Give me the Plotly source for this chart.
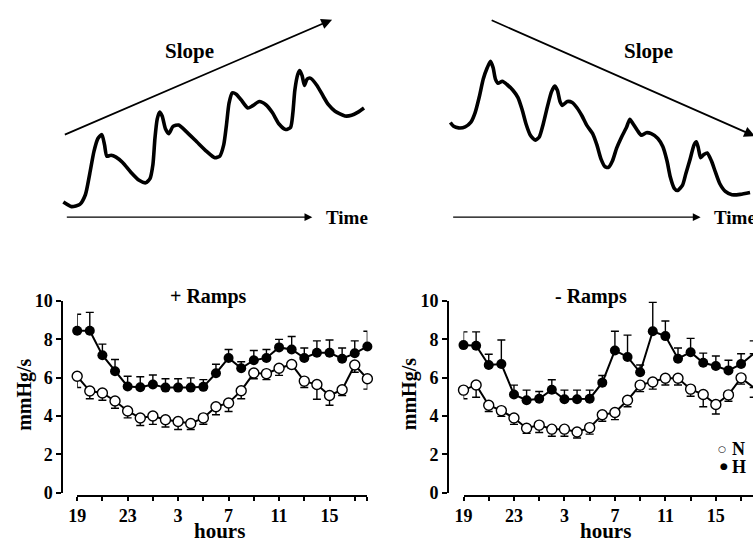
import plotly.graph_objects as go

W, H = 753, 552
FONT = "Liberation Serif, Times New Roman, serif"

# Hour of day for each hourly sample (19:00 through 18:00)
HOURS = [19, 20, 21, 22, 23, 0, 1, 2, 3, 4, 5, 6, 7, 8, 9, 10, 11, 12, 13, 14, 15, 16, 17, 18]
LABELLED_HOURS = [19, 23, 3, 7, 11, 15]

# + Ramps (mmHg/s), mean and SEM
POS_H = [8.45, 8.45, 7.17, 6.33, 5.54, 5.50, 5.64, 5.48, 5.48, 5.48, 5.52, 6.23,
         7.03, 6.49, 6.91, 7.03, 7.58, 7.47, 7.03, 7.30, 7.30, 6.99, 7.27, 7.63]
POS_H_SEM = [0.86, 0.96, 0.58, 0.62, 0.53, 0.55, 0.50, 0.46, 0.46, 0.51, 0.38, 0.47,
             0.44, 0.34, 0.51, 0.44, 0.42, 0.68, 0.52, 0.62, 0.67, 0.56, 0.65, 0.79]
POS_N = [6.07, 5.30, 5.20, 4.78, 4.26, 3.89, 4.00, 3.80, 3.71, 3.61, 3.90, 4.48,
         4.68, 5.32, 6.24, 6.21, 6.49, 6.69, 5.82, 5.64, 5.07, 5.37, 6.66, 5.94]
POS_N_SEM = [0.58, 0.40, 0.38, 0.38, 0.36, 0.39, 0.44, 0.38, 0.42, 0.32, 0.33, 0.42,
             0.45, 0.42, 0.30, 0.31, 0.37, 0.20, 0.33, 0.77, 0.51, 0.30, 0.38, 0.54]

# - Ramps (mmHg/s), mean and SEM
NEG_H = [7.70, 7.67, 6.66, 6.71, 5.12, 4.82, 4.90, 5.37, 4.87, 4.87, 4.90, 5.74,
         7.42, 7.08, 6.28, 8.42, 8.17, 6.99, 7.33, 6.78, 6.61, 6.38, 6.71, 7.25]
NEG_H_SEM = [0.69, 0.72, 0.56, 1.26, 0.49, 0.53, 0.38, 0.52, 0.48, 0.48, 0.45, 0.37,
             1.00, 1.14, 0.38, 1.51, 0.79, 0.56, 0.72, 0.50, 0.52, 0.53, 0.54, 0.67]
NEG_N = [5.35, 5.62, 4.56, 4.28, 3.89, 3.36, 3.52, 3.31, 3.31, 3.16, 3.39, 4.06,
         4.18, 4.82, 5.61, 5.77, 5.97, 5.97, 5.40, 5.12, 4.60, 5.10, 5.99, 5.49]
NEG_N_SEM = [0.45, 0.64, 0.33, 0.30, 0.33, 0.27, 0.38, 0.37, 0.37, 0.31, 0.34, 0.34,
             0.37, 0.34, 0.34, 0.37, 0.35, 0.35, 0.37, 0.64, 0.50, 0.33, 0.33, 0.51]

# Schematic pressure waves (drawing units = pixels of the top strip)
RISING_WAVE = [(55, 199.3), (63.3, 204), (71.7, 201.7), (77.3, 191.7), (81.7, 170), (86, 146.7),
               (90, 133.3), (94, 129.3), (96.7, 140), (99, 151.7), (103.3, 150.7), (108.3, 152.7),
               (115, 158.3), (123.3, 168.3), (131.7, 176.7), (138.3, 179.3), (142.7, 175),
               (145.7, 160), (147.7, 133.3), (150, 113.3), (152.3, 106), (155, 110), (158.3, 123.3),
               (161.7, 128.3), (166, 120.7), (171.7, 119.3), (180, 126.7), (190, 136.7),
               (200, 146.7), (208.3, 153.3), (213.3, 151.7), (217.3, 140), (220, 120),
               (222.7, 96.7), (226, 86), (230, 87.3), (235, 93.3), (241.7, 101.7), (246.7, 99.3),
               (253.3, 95), (260, 98.3), (266.7, 106.7), (273.3, 118.3), (280, 124), (285, 121.7),
               (287.3, 106.7), (289.3, 83.3), (292.3, 66.7), (294.3, 62.7), (296.7, 68.3),
               (299, 78.3), (301.7, 71.7), (305, 70.7), (311.7, 78.3), (318.3, 90), (323.3, 98.3),
               (330, 105), (340, 110), (346.7, 109.3), (353.3, 106), (359.3, 101.7)]
FALLING_WAVE = [(446.7, 116.7), (450, 120.7), (455, 122.3), (461.7, 121.3), (467.3, 116.7),
                (471.7, 106.7), (476, 90), (480, 71.7), (484, 60), (487.3, 53.3), (490, 60),
                (492.3, 71.7), (495, 76), (499.3, 74), (504, 77.3), (510, 83.3), (515, 90.7),
                (519.3, 103.3), (523.3, 118.3), (527.7, 130), (532.7, 135), (536.7, 131.7),
                (540.7, 118.3), (545, 100), (549, 85), (552.3, 79), (555, 83.3), (557.7, 95),
                (560, 99), (565, 95), (570, 96), (575, 101.7), (580, 110), (585, 120),
                (590.7, 128.3), (595, 140), (599.3, 155), (603.3, 162.7), (606.7, 163.3),
                (610.7, 156.7), (615, 143.3), (620, 131.7), (625, 121.7), (628.3, 113.3),
                (631.7, 118.3), (636, 125), (640, 130), (645, 127.3), (650, 128.3),
                (656.7, 133.3), (661.7, 141.7), (666, 156.7), (669.3, 173.3), (673.3, 185),
                (676.7, 187.3), (681.7, 181.7), (685, 170), (689.3, 155), (693.3, 140),
                (695.7, 136.7), (697.7, 143.3), (700, 153.3), (703.3, 150), (706.7, 148.3),
                (711, 156.7), (715, 168.3), (719.3, 180), (725, 188.3), (731.7, 191.7),
                (740, 191.3), (750, 189.3)]


def px(x):
    return x / W


def py(y):
    return 1 - y / H


idx = list(range(len(HOURS)))
zeros = [0] * len(HOURS)
PX_PER_HOUR = 12.77

fig = go.Figure()


def add_panel(xa, ya, n_mean, n_sem, h_mean, h_sem):
    fig.add_trace(go.Scatter(
        x=idx, y=n_mean, xaxis=xa, yaxis=ya, mode="lines+markers", cliponaxis=False,
        line=dict(color="black", width=2),
        marker=dict(symbol="circle", size=10, color="white", line=dict(color="black", width=1.4)),
        error_y=dict(type="data", symmetric=False, array=zeros, arrayminus=n_sem,
                     color="black", thickness=1.4, width=4),
        showlegend=False))
    fig.add_trace(go.Scatter(
        x=idx, y=h_mean, xaxis=xa, yaxis=ya, mode="lines+markers", cliponaxis=False,
        line=dict(color="black", width=2),
        marker=dict(symbol="circle", size=10, color="black"),
        error_y=dict(type="data", symmetric=False, array=h_sem, arrayminus=zeros,
                     color="black", thickness=1.4, width=4),
        showlegend=False))


add_panel("x", "y", POS_N, POS_N_SEM, POS_H, POS_H_SEM)
add_panel("x2", "y2", NEG_N, NEG_N_SEM, NEG_H, NEG_H_SEM)

# top schematic strip
for wave in (RISING_WAVE, FALLING_WAVE):
    fig.add_trace(go.Scatter(
        x=[p[0] for p in wave], y=[p[1] for p in wave], xaxis="x3", yaxis="y3",
        mode="lines", line=dict(color="black", width=3.6, shape="spline", smoothing=0.6),
        showlegend=False, hoverinfo="skip"))

tickvals = list(range(0, 24, 2)) + [23]
ticktext = [str(HOURS[v]) if (HOURS[v] in LABELLED_HOURS and v < 23) else "" for v in tickvals]
tickfont = dict(family=FONT, size=18, color="black", weight="bold")

common_x = dict(anchor="free", position=py(504), showline=True, linecolor="black", linewidth=2,
                ticks="outside", ticklen=4, tickwidth=2, tickcolor="black",
                tickvals=tickvals, ticktext=ticktext, tickfont=tickfont,
                showgrid=False, zeroline=False, fixedrange=True)
common_y = dict(anchor="free", range=[0, 10], domain=[py(500.7), py(302)],
                showline=True, linecolor="black", linewidth=2,
                ticks="outside", ticklen=5, tickwidth=2, tickcolor="black",
                tickvals=[0, 2, 4, 6, 8, 10], tickfont=tickfont,
                showgrid=False, zeroline=False, fixedrange=True)

left_x0, right_x0 = 69, 460
fig.update_layout(
    width=W, height=H, margin=dict(l=0, r=0, t=0, b=0),
    paper_bgcolor="white", plot_bgcolor="rgba(0,0,0,0)",
    xaxis=dict(domain=[px(left_x0), px(left_x0 + 23 * PX_PER_HOUR)], range=[0, 23], **common_x),
    yaxis=dict(position=px(54), **common_y),
    xaxis2=dict(domain=[px(right_x0), 1], range=[0, (W - right_x0) / PX_PER_HOUR], **common_x),
    yaxis2=dict(position=px(444.3), **common_y),
    xaxis3=dict(domain=[0, 1], range=[0, W], visible=False, fixedrange=True),
    yaxis3=dict(domain=[py(240), 1], range=[240, 0], visible=False, fixedrange=True),
)

bold = lambda s: dict(family=FONT, size=s, color="black", weight="bold")
ann = []


def text(x, y, t, size, angle=0, xanchor="center"):
    ann.append(dict(x=px(x), y=py(y), xref="paper", yref="paper", text=t, showarrow=False,
                    font=bold(size), textangle=angle, xanchor=xanchor, yanchor="middle"))


def arrow(x0, y0, x1, y1, width):
    ann.append(dict(x=x1, y=y1, ax=x0, ay=y0, xref="x3", yref="y3", axref="x3", ayref="y3",
                    text="", showarrow=True, arrowhead=2, arrowsize=1.2, arrowwidth=width,
                    arrowcolor="black", standoff=0, startstandoff=0))


# schematic arrows and labels
arrow(55, 130, 327, 10, 1.8)
arrow(487, 10, 755, 131, 1.8)
arrow(57, 215, 307, 215, 1.3)
arrow(448, 215, 700, 215, 1.3)
text(182.5, 43, "Slope", 21)
text(647, 43, "Slope", 21)
text(342.5, 215, "Time", 19)
text(712, 215, "Time", 19, xanchor="left")

# panel titles and axis labels
text(202, 297, "+ Ramps", 20)
text(589, 297, "- Ramps", 20)
text(15.5, 399, "mmHg/s", 20, angle=-90)
text(405.5, 399, "mmHg/s", 20, angle=-90)
text(213, 541, "hours", 21)
text(604, 541, "hours", 21)

# group key
ann.append(dict(x=px(722), y=py(455), xref="paper", yref="paper", text="○", showarrow=False,
                font=dict(family="DejaVu Sans", size=9, color="black"), xanchor="center",
                yanchor="middle", borderpad=0))
ann.append(dict(x=px(724), y=py(473), xref="paper", yref="paper", text="●", showarrow=False,
                font=dict(family="DejaVu Sans", size=9, color="black"), xanchor="center",
                yanchor="middle", borderpad=0))
text(730, 456, "N", 18, xanchor="left")
text(730, 474, "H", 18, xanchor="left")

fig.update_layout(annotations=ann)
fig.write_html("out.html")
